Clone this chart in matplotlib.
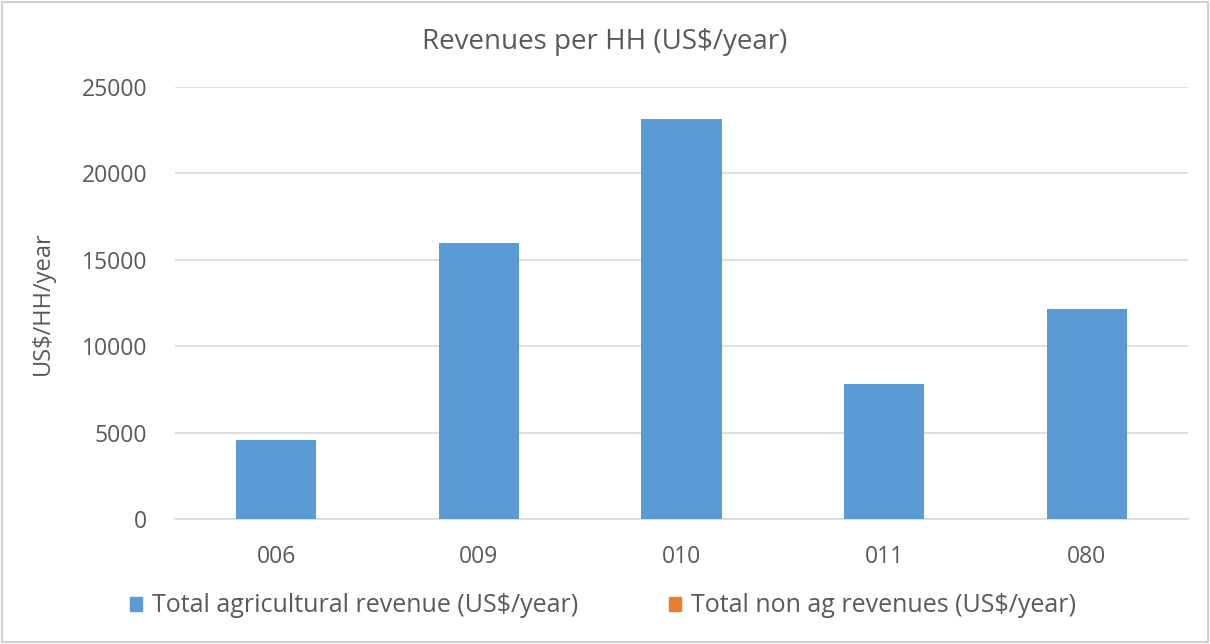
import matplotlib.pyplot as plt
from matplotlib.patches import Rectangle
import numpy as np

# Revenue per household by site
sites = ["006", "009", "010", "011", "080"]
ag_revenue = [4600, 16000, 23150, 7800, 12150]
non_ag_revenue = [0, 0, 0, 0, 0]

series_names = ["Total agricultural revenue (US$/year)",
                "Total non ag revenues (US$/year)"]
blue = "#5b9bd5"
orange = "#ed7d31"
text_gray = "#595959"
grid_gray = "#d9d9d9"

plt.rcParams["font.family"] = ["Open Sans", "DejaVu Sans"]

fig = plt.figure(figsize=(12.1, 6.44), dpi=100)
ax = fig.add_axes([175 / 1210, 1 - 519 / 644, (1188 - 175) / 1210, (519 - 87) / 644])

x = np.arange(len(sites))
ax.bar(x, ag_revenue, width=0.395, color=blue, label=series_names[0], zorder=3)
ax.bar(x, non_ag_revenue, width=0.395, bottom=ag_revenue, color=orange,
       label=series_names[1], zorder=3)

ax.set_xlim(-0.5, len(sites) - 0.5)
ax.set_ylim(0, 25000)
ax.set_yticks(range(0, 25001, 5000))
ax.set_xticks(x)
ax.set_xticklabels(sites)
ax.tick_params(axis="both", length=0, labelsize=16.5, colors=text_gray)
ax.tick_params(axis="y", pad=20)
ax.tick_params(axis="x", pad=19)
ax.grid(axis="y", color=grid_gray, linewidth=1.2, zorder=0)
for s in ["top", "right", "left"]:
    ax.spines[s].set_visible(False)
ax.spines["bottom"].set_color(grid_gray)
ax.spines["bottom"].set_linewidth(1.2)

ax.set_ylabel("US$/HH/year", fontsize=17, color=text_gray)
ax.yaxis.set_label_coords(-120 / 1013, 0.5)

fig.text(605 / 1210, 1 - 42 / 644, "Revenues per HH (US$/year)", ha="center",
         va="center", fontsize=20, color=text_gray)

handles = [Rectangle((0, 0), 1, 1, color=blue), Rectangle((0, 0), 1, 1, color=orange)]
fig.legend(handles, series_names, loc="center", bbox_to_anchor=(603 / 1210, 1 - 606 / 644),
           ncol=2, frameon=False, fontsize=18, labelcolor=text_gray,
           handlelength=0.5, handleheight=0.5, handletextpad=0.4, columnspacing=3.6)

# chart area border
fig.patches.append(Rectangle((0.002, 0.003), 0.996, 0.994, transform=fig.transFigure,
                             fill=False, edgecolor="#d0d0d0", linewidth=1.5))

fig.savefig("out.png", dpi=100)
